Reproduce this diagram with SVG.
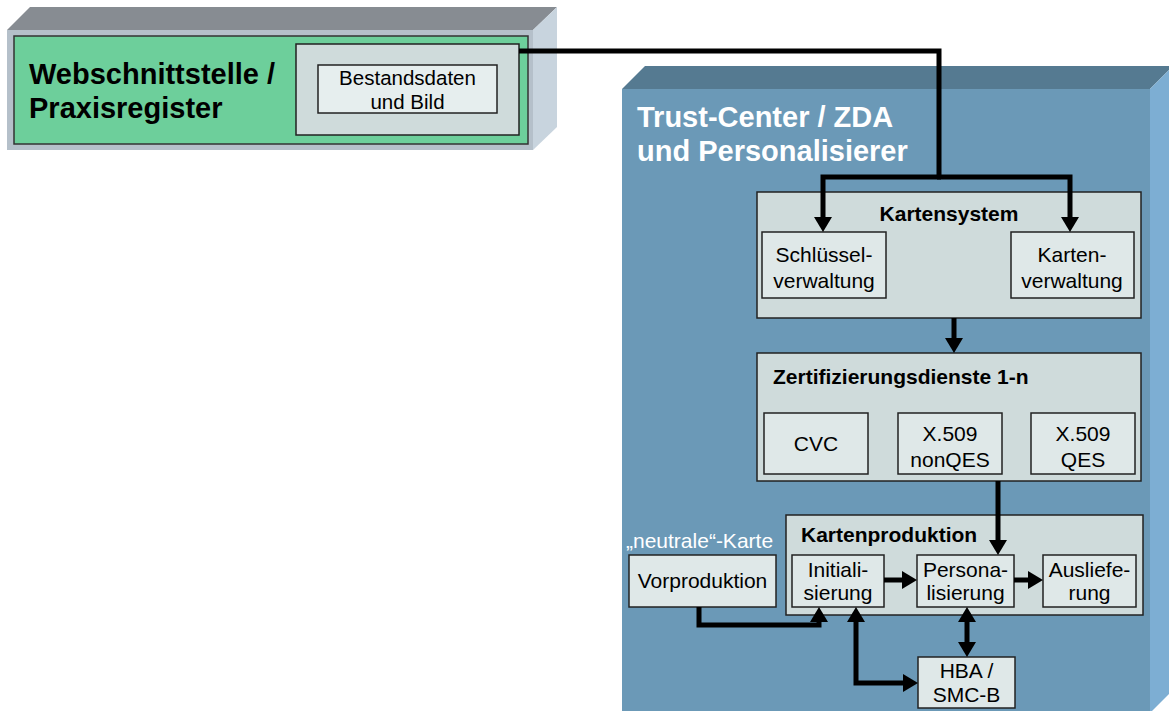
<svg xmlns="http://www.w3.org/2000/svg" width="1169" height="711" viewBox="0 0 1169 711">
<defs>
<style>
.title{font-family:"Liberation Sans",Arial,sans-serif;font-weight:bold;font-size:29px}
.hd{font-family:"Liberation Sans",Arial,sans-serif;font-weight:bold;font-size:21px;fill:#000}
.lb{font-family:"Liberation Sans",Arial,sans-serif;font-size:21px;fill:#000;text-anchor:middle}
.box{fill:#CFDBDB;stroke:#222;stroke-width:1.5}
.sub{fill:#DFE8E8;stroke:#222;stroke-width:1.5}
.con{fill:none;stroke:#000;stroke-width:5;stroke-linejoin:miter}
</style>
<marker id="ah" markerUnits="userSpaceOnUse" markerWidth="16" markerHeight="18" refX="5" refY="9" orient="auto-start-reverse">
<path d="M0,0 L15,9 L0,18 Z" fill="#000"/>
</marker>
</defs>
<rect width="1169" height="711" fill="#fff"/>

<g id="webschnittstelle">
<polygon points="7,30 30,7 557,7 533,30" fill="#878C92"/>
<polygon points="533,30 557,7 557,127 533,150" fill="#C8D4DE"/>
<rect x="7" y="30" width="526" height="120" fill="#B5C0CA"/>
<rect x="14" y="36" width="514" height="108" fill="#6DCF9B" stroke="#333" stroke-width="1.5"/>
<text class="title" x="29" y="84" fill="#000">Webschnittstelle /</text>
<text class="title" x="29" y="118" fill="#000">Praxisregister</text>
</g>
<g id="bestandsdaten-container">
<rect class="box" x="296" y="44" width="223" height="91"/>
</g>
<g id="bestandsdaten">
<rect x="318" y="65" width="179" height="48" fill="#E6EEEE" stroke="#222" stroke-width="1.5"/>
<text class="lb" x="407.5" y="85" style="font-size:20.5px">Bestandsdaten</text>
<text class="lb" x="407.5" y="109" style="font-size:20.5px">und Bild</text>
</g>

<g id="trustcenter">
<polygon points="622,89 645,66 1173,66 1150,89" fill="#557A91"/>
<polygon points="1150,89 1173,66 1173,690 1150,713" fill="#7DAED3"/>
<rect x="622" y="89" width="528" height="630" fill="#6B99B7"/>
<text class="title" x="637" y="127" fill="#fff">Trust-Center / ZDA</text>
<text class="title" x="637" y="161" fill="#fff">und Personalisierer</text>
</g>

<g id="kartensystem">
<rect class="box" x="757" y="192" width="384" height="126"/>
<text class="hd" x="949" y="221" text-anchor="middle">Kartensystem</text>
</g>
<g id="schluesselverwaltung">
<rect class="sub" x="762" y="232" width="124" height="66"/>
<text class="lb" x="824" y="262">Schlüssel-</text>
<text class="lb" x="824" y="288">verwaltung</text>
</g>
<g id="kartenverwaltung">
<rect class="sub" x="1011" y="232" width="123" height="66"/>
<text class="lb" x="1072" y="262">Karten-</text>
<text class="lb" x="1072" y="288">verwaltung</text>
</g>

<g id="zertifizierungsdienste">
<rect class="box" x="757" y="353" width="384" height="128"/>
<text class="hd" x="773" y="384">Zertifizierungsdienste 1-n</text>
</g>
<g id="cvc">
<rect class="sub" x="764" y="413" width="104" height="61"/>
<text class="lb" x="816" y="451">CVC</text>
</g>
<g id="x509-nonqes">
<rect class="sub" x="898" y="413" width="104" height="61"/>
<text class="lb" x="950" y="441">X.509</text>
<text class="lb" x="950" y="467">nonQES</text>
</g>
<g id="x509-qes">
<rect class="sub" x="1031" y="413" width="104" height="61"/>
<text class="lb" x="1083" y="441">X.509</text>
<text class="lb" x="1083" y="467">QES</text>
</g>

<g id="kartenproduktion">
<rect class="box" x="786" y="515" width="357" height="100"/>
<text class="hd" x="801" y="542">Kartenproduktion</text>
</g>
<g id="initialisierung">
<rect class="sub" x="792" y="555" width="92" height="52"/>
<text class="lb" x="838" y="577">Initiali-</text>
<text class="lb" x="838" y="600">sierung</text>
</g>
<g id="personalisierung">
<rect class="sub" x="917" y="555" width="97" height="52"/>
<text class="lb" x="965.5" y="577">Persona-</text>
<text class="lb" x="965.5" y="600">lisierung</text>
</g>
<g id="auslieferung">
<rect class="sub" x="1043" y="555" width="93" height="52"/>
<text class="lb" x="1089.5" y="577">Ausliefe-</text>
<text class="lb" x="1089.5" y="600">rung</text>
</g>

<g id="vorproduktion">
<text x="626" y="548" style="font-family:'Liberation Sans',Arial,sans-serif;font-size:21px;fill:#fff">„neutrale“-Karte</text>
<rect class="sub" x="629" y="555" width="147" height="52"/>
<text class="lb" x="702.5" y="588">Vorproduktion</text>
</g>

<g id="hba-smcb">
<rect class="sub" x="918" y="657" width="97" height="51"/>
<text class="lb" x="966.5" y="678">HBA /</text>
<text class="lb" x="966.5" y="702">SMC-B</text>
</g>

<g id="connectors">
<path class="con" d="M519,51 H939 V177"/>
<path class="con" d="M941,177 H823 V222" marker-end="url(#ah)"/>
<path class="con" d="M937,177 H1070 V222" marker-end="url(#ah)"/>
<path class="con" d="M954,318 V343" marker-end="url(#ah)"/>
<path class="con" d="M998,481 V545" marker-end="url(#ah)"/>
<path class="con" d="M884,580 H907" marker-end="url(#ah)"/>
<path class="con" d="M1014,580 H1033" marker-end="url(#ah)"/>
<path class="con" d="M699,607 V625 H819 V617" marker-end="url(#ah)"/>
<path class="con" d="M856,617 V683 H908" marker-start="url(#ah)" marker-end="url(#ah)"/>
<path class="con" d="M967,617 V647" marker-start="url(#ah)" marker-end="url(#ah)"/>
</g>
</svg>
